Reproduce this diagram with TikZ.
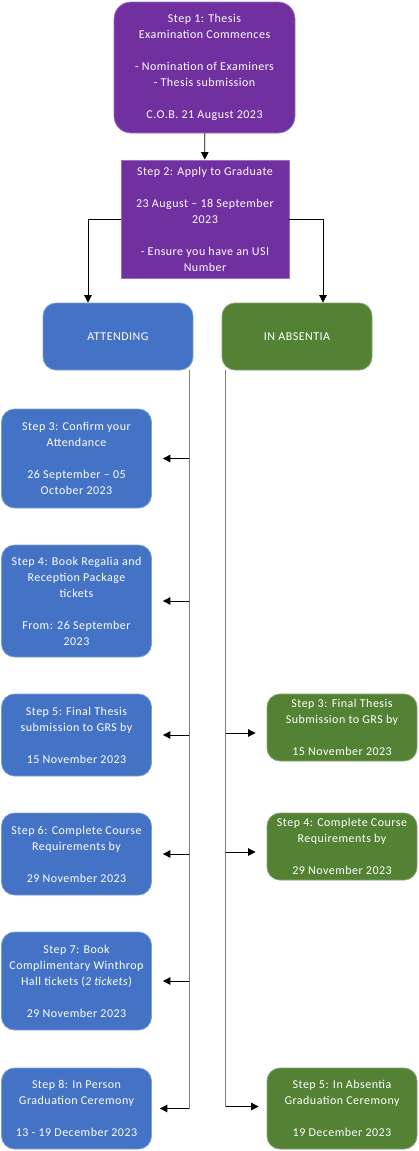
\documentclass[tikz,border=0pt]{standalone}
\usepackage{fontspec}
\setmainfont[LetterSpace=4]{Carlito}
\usetikzlibrary{arrows.meta,calc}
\definecolor{pur}{HTML}{7030A0}
\definecolor{purb}{HTML}{9C6FC0}
\definecolor{blu}{HTML}{4472C4}
\definecolor{blub}{HTML}{7F9FD8}
\definecolor{grn}{HTML}{548235}
\definecolor{grnb}{HTML}{83A46C}
\definecolor{lin}{HTML}{7F7F7F}
\tikzset{
  box/.style={inner sep=0pt, align=center, text=white, font=\fontsize{12}{16}\selectfont, line width=0.8pt},
  purbox/.style={box, fill=pur, draw=purb},
  blubox/.style={box, fill=blu, draw=blub, rounded corners=13pt, minimum width=150pt},
  grnbox/.style={box, fill=grn, draw=grnb, rounded corners=13pt, minimum width=150pt},
  tip/.style={-{Triangle[length=7.5pt,width=7.5pt]}},
  arr/.style={tip, black, line width=0.9pt},
  trunk/.style={lin, line width=1pt},
}
\begin{document}
\begin{tikzpicture}[x=1pt,y=-1pt]
\useasboundingbox (0,0) rectangle (419,1151);
\node[purbox, rounded corners=17pt, minimum width=181pt, minimum height=131pt] (s1) at (204.5,67.5)
  {Step 1: Thesis\\Examination Commences\\[16pt]- Nomination of Examiners\\- Thesis submission\\[16pt]C.O.B. 21 August 2023};
\node[purbox, minimum width=168pt, minimum height=118pt] (s2) at (205,219)
  {Step 2: Apply to Graduate\\[16pt]23 August -- 18 September\\2023\\[16pt]- Ensure you have an USI\\Number};
\node[blubox, minimum height=67pt] (att) at (118,336.5) {ATTENDING};
\node[grnbox, minimum height=67pt] (abs) at (297,336.5) {IN ABSENTIA};

\node[blubox, minimum height=99pt] (a3) at (76.5,458.5)
  {Step 3: Confirm your\\Attendance\\[16pt]26 September -- 05\\October 2023};
\node[blubox, minimum height=112pt] (a4) at (76.5,601)
  {Step 4: Book Regalia and\\Reception Package\\tickets\\[16pt]From: 26 September\\2023};
\node[blubox, minimum height=82pt] (a5) at (76.5,735)
  {Step 5: Final Thesis\\submission to GRS by\\[16pt]15 November 2023};
\node[blubox, minimum height=82pt] (a6) at (76.5,854)
  {Step 6: Complete Course\\Requirements by\\[16pt]29 November 2023};
\node[blubox, minimum height=98pt] (a7) at (76.5,981)
  {Step 7: Book\\Complimentary Winthrop\\Hall tickets (\textit{2 tickets})\\[16pt]29 November 2023};
\node[blubox, minimum height=81pt] (a8) at (76.5,1108.5)
  {Step 8: In Person\\Graduation Ceremony\\[16pt]13 - 19 December 2023};

\node[grnbox, minimum height=67pt] (b3) at (342,727.5)
  {Step 3: Final Thesis\\Submission to GRS by\\[16pt]15 November 2023};
\node[grnbox, minimum height=67pt] (b4) at (342,846.5)
  {Step 4: Complete Course\\Requirements by\\[16pt]29 November 2023};
\node[grnbox, minimum height=81pt] (b5) at (342,1108.5)
  {Step 5: In Absentia\\Graduation Ceremony\\[16pt]19 December 2023};

% top connectors
\draw[arr] (s1) -- (s2);
\coordinate (attin) at ($(att.north)+(-30,0)$);
\coordinate (absin) at ($(abs.north)+(26,0)$);
\draw[arr, line width=0.8pt] (s2.west) -| (attin);
\draw[arr, line width=0.8pt] (s2.east) -| (absin);

% trunks
\coordinate (la) at ($(att.south east)+(-4,0)$);
\coordinate (ra) at ($(abs.south west)+(4,0)$);
\draw[trunk] (la) -- (la |- a8.east);
\draw[trunk] (ra) -- ($(ra |- b5.west)+(0,-2)$);

% branch arrows left
\foreach \n in {a3,a4,a5,a6,a7}
  \draw[arr] (la |- \n.east) -- (\n.east) [shorten >=11pt];
\draw[arr] (la |- a8.east) -- (a8.east) [shorten >=8pt];
% branch arrows right
\foreach \n in {b3,b4}
  \draw[arr] ($(ra |- \n.west)+(0,5.5)$) -- ($(\n.west)+(0,5.5)$) [shorten >=11pt];
\draw[arr] ($(ra |- b5.west)+(0,-2)$) -- ($(b5.west)+(0,-2)$) [shorten >=8pt];
\end{tikzpicture}
\end{document}
